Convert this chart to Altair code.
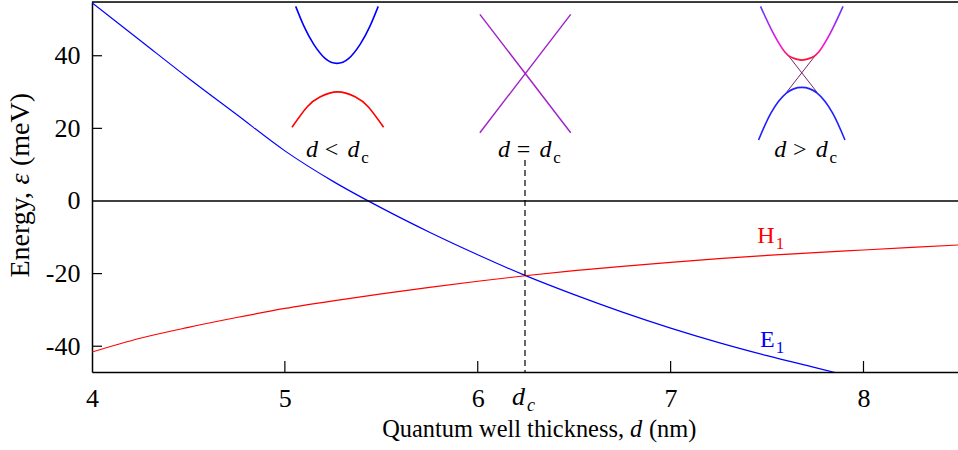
import altair as alt
import pandas as pd

FONT = "Liberation Serif"

# Subband edges (meV) versus quantum-well thickness d (nm)
d_e1 = [4.0, 4.25, 4.5, 4.75, 5.0, 5.25, 5.5, 5.75, 6.0, 6.245, 6.5, 6.75, 7.0, 7.25, 7.5, 7.75, 8.0]
e1 = [54.6, 44.2, 33.8, 23.8, 13.8, 5.4, -1.9, -8.6, -14.8, -20.5, -25.8, -30.6, -35.0, -39.0, -42.6, -45.9, -49.2]
d_h1 = [4.0, 4.25, 4.5, 4.75, 5.0, 5.25, 5.5, 5.75, 6.0, 6.245, 6.5, 6.75, 7.0, 7.25, 7.5, 7.75, 8.0, 8.25, 8.5]
h1 = [-41.6, -37.8, -34.8, -32.1, -29.6, -27.5, -25.6, -23.8, -22.1, -20.6, -19.2, -18.0, -16.9, -15.9, -15.0,
      -14.2, -13.5, -12.8, -12.1]

d_crit = 6.245

# Schematic dispersions drawn above the curves (d, energy)
gap_cond_d = [5.056, 5.10, 5.149, 5.21, 5.27, 5.33, 5.391, 5.44, 5.484]
gap_cond_e = [53.6, 48.0, 43.2, 39.2, 37.9, 39.2, 43.2, 48.0, 53.6]
gap_val_d = [5.037, 5.115, 5.184, 5.274, 5.364, 5.433, 5.512]
gap_val_e = [20.3, 25.9, 28.7, 30.05, 28.7, 25.9, 20.3]

dirac_a_d = [6.011, 6.482]
dirac_a_e = [51.4, 18.8]
dirac_b_d = [6.011, 6.482]
dirac_b_e = [18.8, 51.4]

inv_upper_d = [7.466, 7.532, 7.592, 7.628, 7.680, 7.732, 7.768, 7.828, 7.894]
inv_upper_e = [53.6, 46.2, 41.0, 39.5, 38.8, 39.5, 41.0, 46.2, 53.6]
inv_lower_d = [7.456, 7.520, 7.600, 7.680, 7.760, 7.840, 7.904]
inv_lower_e = [16.8, 24.2, 29.7, 31.3, 29.7, 24.2, 16.8]
inv_xa_d = [7.602, 7.758]
inv_xa_e = [40.6, 30.0]
inv_xb_d = [7.602, 7.758]
inv_xb_e = [30.0, 40.6]

# Tick values
x_ticks = [4, 5, 6, 7, 8]
y_ticks = [-40, -20, 0, 20, 40]
x_inner_ticks = [5, 6, 7, 8]
y_inner_ticks = [-40, -20, 20, 40]

# Label anchors
regime_d = [5.2416, 6.237, 7.670]
regime_sym = ["<", "=", ">"]
regime_e = 12.1
h1_label = (7.494, -11.5)
e1_label = (7.502, -40.1)
dc_line_top = 11.3

W, H = 866, 370
xs = alt.Scale(domain=[4, 8.49], nice=False, zero=False)
ys = alt.Scale(domain=[-47.1, 54.8], nice=False, zero=False)

# One shared axis definition per direction, reused by every layer
XAX = alt.Axis(values=x_ticks, title=None, ticks=False, tickSize=0, grid=False, labelFlush=False,
               labelFont=FONT, labelFontSize=26, labelColor="black", labelPadding=13,
               domainColor="black", domainWidth=1.5)
YAX = alt.Axis(values=y_ticks, title=None, ticks=False, tickSize=0, grid=False,
               labelExpr="'' + datum.value", labelFont=FONT, labelFontSize=26, labelColor="black",
               labelPadding=12, domainColor="black", domainWidth=1.5)


def X(field="d"):
    return alt.X(f"{field}:Q", scale=xs, axis=XAX)


def Y(field="E"):
    return alt.Y(f"{field}:Q", scale=ys, axis=YAX)


def curve(dv, ev, color, width=1.2, interp="monotone"):
    df = pd.DataFrame({"d": dv, "E": ev})
    return alt.Chart(df).mark_line(color=color, strokeWidth=width, interpolate=interp, clip=True).encode(
        x=X(), y=Y())


def text(t, d, e, dx=0, dy=0, size=24, italic=False, color="black", align="center"):
    df = pd.DataFrame({"d": [d], "E": [e], "t": [t]})
    return alt.Chart(df).mark_text(
        font=FONT, fontSize=size, fontStyle="italic" if italic else "normal",
        dx=dx, dy=dy, align=align, baseline="alphabetic", color=color
    ).encode(x=X(), y=Y(), text="t:N")


def page_text(t, px, py, size=24, italic=False, align="center", angle=0):
    df = pd.DataFrame({"t": [t]})
    return alt.Chart(df).mark_text(
        font=FONT, fontSize=size, fontStyle="italic" if italic else "normal",
        align=align, baseline="alphabetic", color="black", angle=angle
    ).encode(x=alt.value(px), y=alt.value(py), text="t:N")


e1_line = curve(d_e1, e1, "#0000ff")
h1_line = curve(d_h1, h1, "#ff0000")

# Frame pieces: top border, zero line, inward ticks, critical thickness marker
top_border = alt.Chart(pd.DataFrame({"a": [0]})).mark_rule(color="black", strokeWidth=1.5).encode(
    x=alt.value(0), x2=alt.value(W), y=alt.value(0))
zero_line = alt.Chart(pd.DataFrame({"E": [0]})).mark_rule(color="black", strokeWidth=1.5).encode(
    y=Y(), x=alt.value(0), x2=alt.value(W))
y_tick_marks = alt.Chart(pd.DataFrame({"E": y_inner_ticks})).mark_rule(color="black", strokeWidth=1.2).encode(
    y=Y(), x=alt.value(0), x2=alt.value(10))
x_tick_marks = alt.Chart(pd.DataFrame({"d": x_inner_ticks})).mark_rule(color="black", strokeWidth=1.2).encode(
    x=X(), y=alt.value(H - 11), y2=alt.value(H))
dc_line = alt.Chart(pd.DataFrame({"d": [d_crit], "E": [dc_line_top]})).mark_rule(
    color="black", strokeWidth=1.2, strokeDash=[6, 4]).encode(
    x=X(), y=Y(), y2=alt.value(H))

# Schematic band pictures
upper_grad = alt.Gradient(
    gradient="linear",
    stops=[alt.GradientStop(color="#5a3cff", offset=0), alt.GradientStop(color="#b020f0", offset=0.4),
           alt.GradientStop(color="#ff10d8", offset=0.72), alt.GradientStop(color="#ff1030", offset=1)],
    x1=0, x2=0, y1=0, y2=1)
inv_upper = alt.Chart(pd.DataFrame({"d": inv_upper_d, "E": inv_upper_e})).mark_line(
    stroke=upper_grad, strokeWidth=1.6, interpolate="natural").encode(x=X(), y=Y())

insets = [
    curve(gap_cond_d, gap_cond_e, "#0000ff", 1.6, "natural"),
    curve(gap_val_d, gap_val_e, "#ff0000", 1.6, "natural"),
    curve(dirac_a_d, dirac_a_e, "#a020c8", 1.4, "linear"),
    curve(dirac_b_d, dirac_b_e, "#a020c8", 1.4, "linear"),
    curve(inv_xa_d, inv_xa_e, "#7a2468", 1.0, "linear"),
    curve(inv_xb_d, inv_xb_e, "#7a2468", 1.0, "linear"),
    inv_upper,
    curve(inv_lower_d, inv_lower_e, "#2020ff", 1.6, "natural"),
]

labels = []
for dd, sym in zip(regime_d, regime_sym):
    labels += [
        text("d", dd, regime_e, dx=-19.5, italic=True),
        text(sym, dd, regime_e),
        text("d", dd, regime_e, dx=22, italic=True),
        text("c", dd, regime_e, dx=33.5, dy=6, size=17),
    ]
labels += [
    text("H", h1_label[0], h1_label[1], color="#ff0000"),
    text("1", h1_label[0], h1_label[1], dx=14, dy=6, size=17, color="#ff0000"),
    text("E", e1_label[0], e1_label[1], color="#0000ff"),
    text("1", e1_label[0], e1_label[1], dx=12.5, dy=6, size=17, color="#0000ff"),
]

# d_c tick label under the axis
dc_df = pd.DataFrame({"d": [d_crit], "t": ["d"], "s": ["c"]})
dc_d = alt.Chart(dc_df).mark_text(font=FONT, fontSize=26, fontStyle="italic", baseline="alphabetic",
                                  dx=-6.5, color="black").encode(x=X(), y=alt.value(403), text="t:N")
dc_c = alt.Chart(dc_df).mark_text(font=FONT, fontSize=18, fontStyle="italic", baseline="alphabetic",
                                  dx=6, color="black").encode(x=X(), y=alt.value(409), text="s:N")

# Axis titles with italic symbols
titles = [
    page_text("Quantum well thickness,", 532, 435, size=24.4, align="right"),
    page_text("d", 544, 435, size=24.4, italic=True),
    page_text("(nm)", 557, 435, size=24.4, align="left"),
    page_text("Energy,", -63, 190, size=28, align="right", angle=270),
    page_text("\u03b5", -63, 177, size=28, italic=True, angle=270),
    page_text("(meV)", -63, 164, size=28, align="left", angle=270),
]

chart = alt.layer(
    e1_line, h1_line, zero_line, top_border, y_tick_marks, x_tick_marks, dc_line,
    *insets, *labels, dc_d, dc_c, *titles
).properties(
    width=W, height=H,
    padding={"left": 92, "top": 2, "right": 0, "bottom": 78},
    autosize=alt.AutoSizeParams(type="none"),
).configure_view(stroke=None).configure(background="white")

chart.save("out.html", embed_options={"renderer": "svg", "actions": False})
